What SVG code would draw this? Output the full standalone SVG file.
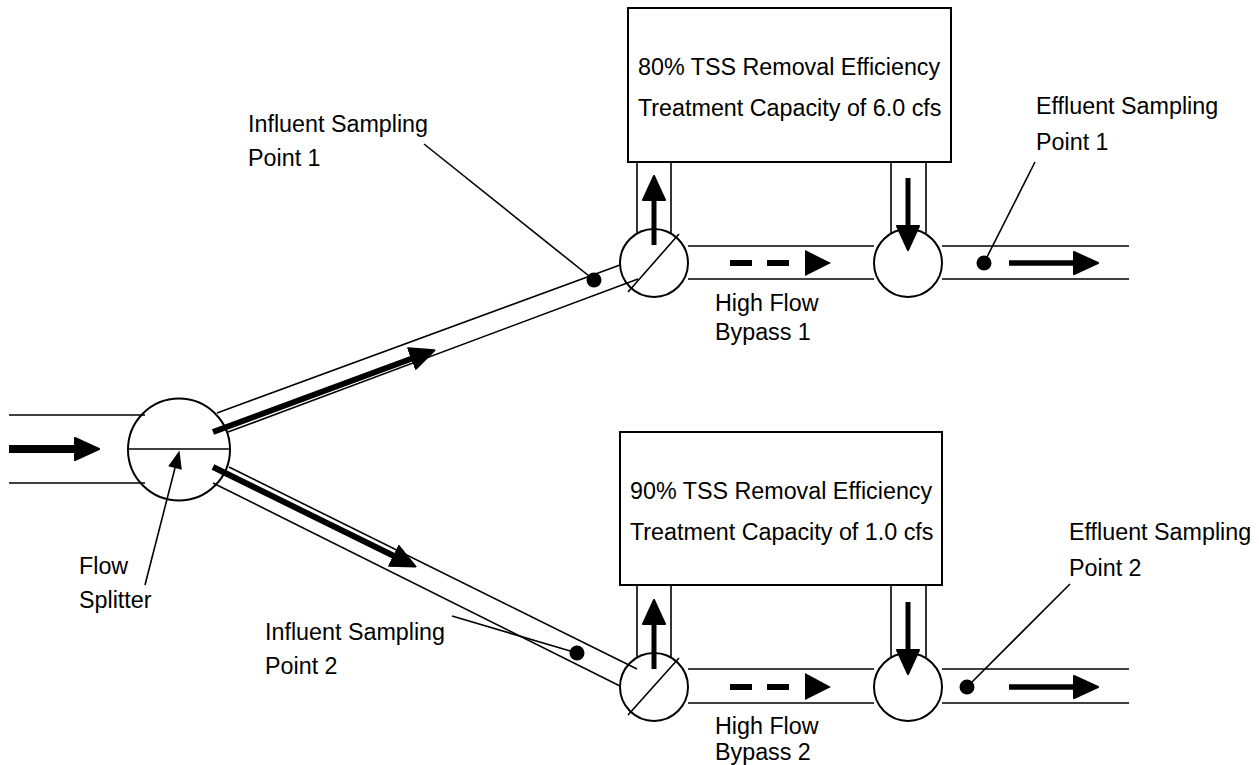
<svg xmlns="http://www.w3.org/2000/svg" width="1259" height="765" viewBox="0 0 1259 765">
<style>
.t{font-family:"Liberation Sans",Arial,sans-serif;font-size:23.3px;fill:#000}
.p{stroke:#000;stroke-width:1.6;fill:none}
.c{stroke:#000;stroke-width:2;fill:none}
.box{stroke:#000;stroke-width:2;fill:#fff}
.th{stroke:#000;stroke-width:6;fill:none}
.dot{fill:#000}
.ld{stroke:#000;stroke-width:1.6;fill:none}
</style>
<defs>
<marker id="ah" markerUnits="userSpaceOnUse" viewBox="0 0 26 24" refX="1" refY="12" markerWidth="26" markerHeight="24" orient="auto">
<path d="M1,1 L25,12 L1,23 Z" fill="#000" stroke="#000" stroke-width="2" stroke-linejoin="round"/>
</marker>
<marker id="ahs" markerUnits="userSpaceOnUse" viewBox="0 0 20 16" refX="1" refY="8" markerWidth="20" markerHeight="16" orient="auto">
<path d="M1,1 L19,8 L1,15 Z" fill="#000"/>
</marker>
</defs>
<rect width="1259" height="765" fill="#fff"/>
<g id="connectors">
<line class="p" x1="9" y1="415" x2="145" y2="415"/>
<line class="p" x1="9" y1="483" x2="145" y2="483"/>
<line class="p" x1="217" y1="413" x2="620" y2="265"/>
<line class="p" x1="228" y1="432" x2="638" y2="279"/>
<line class="p" x1="229" y1="467" x2="637" y2="669"/>
<line class="p" x1="213" y1="483" x2="620" y2="686"/>
<line class="p" x1="688" y1="246" x2="874" y2="246"/>
<line class="p" x1="688" y1="279" x2="874" y2="279"/>
<line class="p" x1="942" y1="246" x2="1129" y2="246"/>
<line class="p" x1="942" y1="279" x2="1129" y2="279"/>
<line class="p" x1="688" y1="669" x2="874" y2="669"/>
<line class="p" x1="688" y1="703" x2="874" y2="703"/>
<line class="p" x1="942" y1="669" x2="1129" y2="669"/>
<line class="p" x1="942" y1="703" x2="1129" y2="703"/>
<line class="p" x1="637" y1="162" x2="637" y2="233"/>
<line class="p" x1="671" y1="162" x2="671" y2="233"/>
<line class="p" x1="891" y1="162" x2="891" y2="233"/>
<line class="p" x1="926" y1="162" x2="926" y2="233"/>
<line class="p" x1="637" y1="585" x2="637" y2="657"/>
<line class="p" x1="671" y1="585" x2="671" y2="657"/>
<line class="p" x1="891" y1="585" x2="891" y2="657"/>
<line class="p" x1="926" y1="585" x2="926" y2="657"/>
<line stroke="#000" stroke-width="8" x1="9" y1="449" x2="75" y2="449" marker-end="url(#ah)"/>
<line class="th" x1="213" y1="432" x2="412" y2="358.5" marker-end="url(#ah)"/>
<line class="th" x1="213" y1="467" x2="394" y2="556" marker-end="url(#ah)"/>
<line stroke="#000" stroke-width="5" x1="654" y1="245" x2="654" y2="200" marker-end="url(#ah)"/>
<line stroke="#000" stroke-width="5" x1="908" y1="178" x2="908" y2="226" marker-end="url(#ah)"/>
<line stroke="#000" stroke-width="5" x1="654" y1="669" x2="654" y2="624" marker-end="url(#ah)"/>
<line stroke="#000" stroke-width="5" x1="908" y1="602" x2="908" y2="650" marker-end="url(#ah)"/>
<line stroke="#000" stroke-width="5.5" x1="1009" y1="263" x2="1074" y2="263" marker-end="url(#ah)"/>
<line stroke="#000" stroke-width="5.5" x1="1009" y1="687" x2="1074" y2="687" marker-end="url(#ah)"/>
<rect x="730" y="260" width="22" height="6" fill="#000"/>
<rect x="767" y="260" width="22" height="6" fill="#000"/>
<polygon points="805,250 831,263 805,276" fill="#000"/>
<rect x="730" y="684" width="22" height="6" fill="#000"/>
<rect x="767" y="684" width="22" height="6" fill="#000"/>
<polygon points="805,673 831,687 805,700" fill="#000"/>
<line class="ld" x1="424" y1="144" x2="594" y2="280"/>
<line class="ld" x1="1035" y1="162" x2="984" y2="263"/>
<line class="ld" x1="1070" y1="584" x2="967" y2="687"/>
<line class="ld" x1="452" y1="616" x2="577" y2="653"/>
<line class="ld" x1="145" y1="585" x2="175" y2="468" marker-end="url(#ahs)"/>
</g>
<g id="splitter">
<circle class="c" cx="179" cy="449.5" r="51"/>
<line class="p" x1="128" y1="449" x2="230" y2="449"/>
</g>
<g id="diverter1">
<circle class="c" cx="654" cy="263" r="34"/>
<line class="p" x1="628" y1="292" x2="679" y2="234"/>
</g>
<g id="junction1">
<circle class="c" cx="908" cy="263" r="34"/>
</g>
<g id="diverter2">
<circle class="c" cx="654" cy="687" r="34"/>
<line class="p" x1="628" y1="715" x2="679" y2="658"/>
</g>
<g id="junction2">
<circle class="c" cx="908" cy="687" r="34"/>
</g>
<g id="treatment1">
<rect class="box" x="628" y="8" width="323" height="154"/>
<text class="t" x="638" y="75">80% TSS Removal Efficiency</text>
<text class="t" x="638" y="116">Treatment Capacity of 6.0 cfs</text>
</g>
<g id="treatment2">
<rect class="box" x="620" y="432" width="322" height="153"/>
<text class="t" x="630" y="499">90% TSS Removal Efficiency</text>
<text class="t" x="630" y="540">Treatment Capacity of 1.0 cfs</text>
</g>
<g id="influent1">
<circle class="dot" cx="594" cy="280" r="7.5"/>
<text class="t" x="248" y="132">Influent Sampling</text>
<text class="t" x="248" y="166">Point 1</text>
</g>
<g id="effluent1">
<circle class="dot" cx="984" cy="263" r="7.5"/>
<text class="t" x="1036" y="114">Effluent Sampling</text>
<text class="t" x="1036" y="150">Point 1</text>
</g>
<g id="influent2">
<circle class="dot" cx="577" cy="653" r="7.5"/>
<text class="t" x="265" y="640">Influent Sampling</text>
<text class="t" x="265" y="674">Point 2</text>
</g>
<g id="effluent2">
<circle class="dot" cx="967" cy="687" r="7.5"/>
<text class="t" x="1069" y="540">Effluent Sampling</text>
<text class="t" x="1069" y="576">Point 2</text>
</g>
<g id="bypass1">
<text class="t" x="715" y="311">High Flow</text>
<text class="t" x="715" y="340">Bypass 1</text>
</g>
<g id="bypass2">
<text class="t" x="715" y="734">High Flow</text>
<text class="t" x="715" y="760">Bypass 2</text>
</g>
<g id="flowsplitter">
<text class="t" x="79" y="574">Flow</text>
<text class="t" x="79" y="608">Splitter</text>
</g>
</svg>
